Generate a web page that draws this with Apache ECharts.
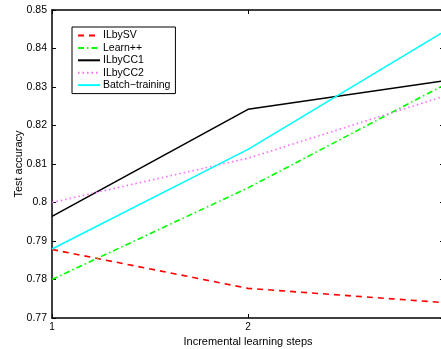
<!DOCTYPE html>
<html>
<head>
<meta charset="utf-8">
<script src="https://cdn.jsdelivr.net/npm/echarts@6/dist/echarts.min.js"></script>
<style>
  html, body { margin: 0; padding: 0; background: #fff; }
  #chart { width: 441px; height: 349px; }
</style>
</head>
<body>
<div id="chart"></div>
<script>
// Incremental learning steps (x positions)
var steps = [1, 2, 3];

// Test accuracy per method
var ilbySV = [0.7878, 0.7777, 0.7740];
var learnPP = [0.7800, 0.8038, 0.8305];
var ilbyCC1 = [0.7964, 0.8242, 0.8316];
var ilbyCC2 = [0.8000, 0.8115, 0.8276];
var batchTraining = [0.7879, 0.8138, 0.8444];

var yTicks = { min: 0.77, max: 0.85, interval: 0.01 };

function pairs(vals) {
  return steps.map(function (s, i) { return [s, vals[i]]; });
}

var font = '"Liberation Sans", Arial, sans-serif';

function lineSeries(name, vals, color, type, width) {
  return {
    name: name,
    type: 'line',
    data: pairs(vals),
    symbol: 'none',
    showSymbol: false,
    animation: false,
    lineStyle: { color: color, type: type, width: width },
    itemStyle: { color: color }
  };
}

var chart = echarts.init(document.getElementById('chart'), null, { renderer: 'canvas' });

var axisCommon = {
  axisLine: { show: true, onZero: false, lineStyle: { color: '#000', width: 1.5 } },
  axisTick: { show: true, inside: true, length: 4, lineStyle: { color: '#000', width: 1 } },
  splitLine: { show: false }
};

chart.setOption({
  animation: false,
  backgroundColor: '#fff',
  grid: { left: 52, right: -3, top: 10, bottom: 31, show: false, outerBoundsMode: 'none', containLabel: false },
  legend: {
    left: 72,
    top: 27,
    orient: 'vertical',
    itemWidth: 22,
    itemHeight: 9,
    itemGap: 1.4,
    padding: [3, 5, 3, 5],
    borderColor: '#000',
    borderWidth: 1,
    backgroundColor: '#fff',
    itemStyle: { opacity: 0 },
    textStyle: { fontFamily: font, fontSize: 10.5, color: '#000', padding: [0, 0, 0, -2] },
    data: ['ILbySV', 'Learn++', 'ILbyCC1', 'ILbyCC2', 'Batch\u2212training']
  },
  xAxis: [
    Object.assign({
      type: 'value', min: 1, max: 3, interval: 1,
      name: 'Incremental learning steps', nameLocation: 'middle', nameGap: 17,
      nameTextStyle: { fontFamily: font, fontSize: 11, color: '#000' },
      axisLabel: { fontFamily: font, fontSize: 10, color: '#000', margin: 4 }
    }, axisCommon),
    Object.assign({
      type: 'value', min: 1, max: 3, interval: 1, position: 'top',
      axisLabel: { show: false }
    }, axisCommon)
  ],
  yAxis: [
    Object.assign({
      type: 'value', min: yTicks.min, max: yTicks.max, interval: yTicks.interval,
      name: 'Test accuracy', nameLocation: 'middle', nameGap: 28, nameMoveOverlap: false,
      nameTextStyle: { fontFamily: font, fontSize: 11, color: '#000' },
      axisLabel: {
        fontFamily: font, fontSize: 10.5, color: '#000', margin: 5,
        formatter: function (v) { return String(parseFloat(v.toFixed(2))); }
      }
    }, axisCommon),
    Object.assign({
      type: 'value', min: yTicks.min, max: yTicks.max, interval: yTicks.interval, position: 'right',
      axisLabel: { show: false }
    }, axisCommon)
  ],
  series: [
    lineSeries('ILbySV', ilbySV, '#ff0000', [6, 5], 1.6),
    lineSeries('Learn++', learnPP, '#00ff00', [6, 3, 1.5, 3], 1.6),
    lineSeries('ILbyCC1', ilbyCC1, '#000000', 'solid', 1.6),
    lineSeries('ILbyCC2', ilbyCC2, '#ff66ff', [1.5, 3], 1.6),
    lineSeries('Batch\u2212training', batchTraining, '#00ffff', 'solid', 1.6)
  ]
});
</script>
</body>
</html>
